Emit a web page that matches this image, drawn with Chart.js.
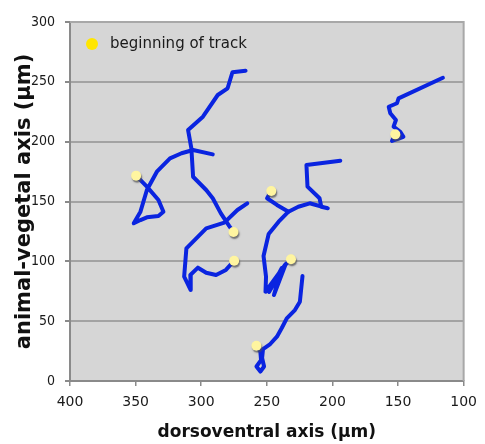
<!DOCTYPE html>
<html><head><meta charset="utf-8">
<script src="https://cdn.jsdelivr.net/npm/chart.js@4.4.0/dist/chart.umd.min.js"></script>
<style>html,body{margin:0;padding:0;background:#fff;}#wrap{width:485px;height:444px;}</style>
</head><body><div id="wrap"><canvas id="c" width="485" height="444"></canvas></div>
<script>
// ---- data (µm) ----
const xTicks = [400, 350, 300, 250, 200, 150, 100];
const yTicks = [0, 50, 100, 150, 200, 250, 300];
const xTitle = 'dorsoventral axis (\u03bcm)';
const yTitle = 'animal-vegetal axis (\u03bcm)';
const legendLabel = 'beginning of track';

const track1X = [349.6, 341.4, 332.6, 328.8, 332.6, 341.4, 346.3, 351.4, 346.3, 341.4, 333.8, 323.8, 315, 306.2, 291.2];
const track1Y = [171.6, 162.4, 151.2, 141.5, 137.9, 136.8, 134.5, 131.8, 141.5, 159.6, 174.9, 186.1, 190.3, 193, 189.4];
const track2X = [275.4, 278.6, 285, 291.2, 296.2, 306.2, 307.5, 310, 298.7, 287.4, 279.9, 276.2, 266.2];
const track2Y = [124.5, 129.5, 140.1, 152.7, 159.6, 170.7, 194.4, 209.7, 220.9, 239, 244.6, 258, 259.3];
const track3X = [274.9, 281.2, 288.7, 296.2, 302.5, 308.3, 308, 313, 311.3, 296.2, 282.4, 272.4, 264.9];
const track3Y = [100.5, 92.8, 88.6, 90.5, 94.7, 88.6, 76, 87.2, 110.9, 127.6, 132.3, 142.9, 148.5];
const track4X = [246.6, 249.8, 242.3, 233.5, 226, 217.3, 203.5, 208.5, 209.8, 219, 219.8, 194];
const track4Y = [158.8, 152.7, 147.1, 141.5, 145.6, 148.5, 144.3, 145.6, 152.7, 162.4, 180.5, 184.1];
const track5X = [231.6, 236.1, 248.3, 238.6, 244.6, 235.6, 251, 250.6, 252.5, 248.6, 241, 233.5];
const track5Y = [101.7, 96.9, 74.4, 94.4, 71.9, 97.8, 74.6, 87.2, 104.5, 122.8, 133.1, 141.5];
const track6X = [152.1, 154.6, 145.9, 148.3, 153.4, 151.6, 155.9, 157.1, 150.8, 149.6, 115.8];
const track6Y = [206.1, 200.6, 204.1, 208.3, 212.5, 218.1, 223.7, 229.2, 232.1, 236.2, 253.4];
const track7X = [257.9, 254.9, 254.4, 257.9, 254.9, 252.1, 253.6, 252.9, 247.4, 242.3, 238.6, 234.8, 228.6, 224.8, 222.8];
const track7Y = [29.5, 24.2, 17.5, 12.1, 7.9, 12.1, 19.2, 26.7, 30.9, 37, 44.3, 52.4, 59.3, 66.3, 87.7];

const tracks = [
  [track1X, track1Y], [track2X, track2Y], [track3X, track3Y], [track4X, track4Y],
  [track5X, track5Y], [track6X, track6Y], [track7X, track7Y]
];

// ---- styles ----
const LINE = '#0a24e0';
const DOT = '#fff5a0';
const LEGEND_DOT = '#ffe600';
const PLOT_BG = '#d6d6d6';
const GRID = '#a3a3a3';
const AXIS = '#8a8a8a';
const FONT = '"DejaVu Sans", Verdana, sans-serif';

const toPts = (xs, ys) => xs.map((x, i) => ({x: x, y: ys[i]}));

const datasets = [{
  label: legendLabel,
  data: tracks.map(t => ({x: t[0][0], y: t[1][0]})),
  showLine: false,
  pointRadius: 5,
  pointBackgroundColor: DOT,
  pointBorderWidth: 0,
  order: -1
}].concat(tracks.map((t, i) => ({
  label: 'track ' + (i + 1),
  data: toPts(t[0], t[1]),
  showLine: true,
  borderColor: LINE,
  borderWidth: 4,
  pointRadius: 0,
  tension: 0,
  fill: false,
  borderJoinStyle: 'round',
  borderCapStyle: 'round',
  order: 0
})));

const plotDecor = {
  id: 'plotDecor',
  beforeDraw(chart) {
    const {ctx, chartArea: a} = chart;
    ctx.save();
    ctx.fillStyle = PLOT_BG;
    ctx.fillRect(a.left, a.top, a.right - a.left, a.bottom - a.top);
    ctx.restore();
  },
  beforeDatasetsDraw(chart) {
    const {ctx, chartArea: a} = chart;
    ctx.save();
    ctx.strokeStyle = '#a8a8a8';
    ctx.lineWidth = 2;
    ctx.beginPath();
    ctx.moveTo(a.left, a.top);
    ctx.lineTo(a.right, a.top);
    ctx.lineTo(a.right, a.bottom);
    ctx.stroke();
    ctx.restore();
  },
  beforeDatasetDraw(chart, args) {
    if (args.index === 0) {
      const ctx = chart.ctx;
      ctx.save();
      ctx.shadowColor = 'rgba(80,80,80,0.75)';
      ctx.shadowOffsetX = 1;
      ctx.shadowOffsetY = 2;
      ctx.shadowBlur = 1.5;
    }
  },
  afterDatasetDraw(chart, args) {
    if (args.index === 0) chart.ctx.restore();
  },
  afterDatasetsDraw(chart) {
    const {ctx, chartArea: a} = chart;
    ctx.save();
    ctx.fillStyle = LEGEND_DOT;
    ctx.beginPath();
    ctx.arc(a.left + 22, a.top + 22, 6, 0, Math.PI * 2);
    ctx.fill();
    ctx.fillStyle = '#1a1a1a';
    ctx.font = '15px ' + FONT;
    ctx.textBaseline = 'middle';
    ctx.textAlign = 'left';
    ctx.fillText(chart.data.datasets[0].label, a.left + 40, a.top + 22);
    ctx.restore();
  }
};

new Chart(document.getElementById('c'), {
  type: 'scatter',
  data: {datasets: datasets},
  options: {
    responsive: false,
    animation: false,
    devicePixelRatio: 1,
    layout: {padding: {left: 0, top: 22, right: 16, bottom: 0}},
    plugins: {legend: {display: false}, tooltip: {enabled: false}},
    events: [],
    scales: {
      x: {
        type: 'linear',
        reverse: true,
        min: 100, max: 400,
        afterBuildTicks: s => { s.ticks = xTicks.map(v => ({value: v})); },
        afterFit: s => { s.height = 63; },
        ticks: {color: '#1a1a1a', font: {family: FONT, size: 14}, padding: 8, maxRotation: 0},
        grid: {drawOnChartArea: false, drawTicks: true, tickLength: 5, color: AXIS, lineWidth: 1.5},
        border: {display: true, color: AXIS, width: 2},
        title: {display: true, text: xTitle, color: '#111', font: {family: FONT, size: 17, weight: 'bold'}, padding: {top: 0, bottom: 1}}
      },
      y: {
        type: 'linear',
        min: 0, max: 300,
        afterBuildTicks: s => { s.ticks = yTicks.map(v => ({value: v})); },
        afterFit: s => { s.width = 70; },
        ticks: {color: '#1a1a1a', font: {family: '"DejaVu Sans Condensed", ' + FONT, size: 14}, padding: 10},
        grid: {drawOnChartArea: true, drawTicks: true, tickLength: 5, color: GRID, tickColor: AXIS, lineWidth: 2},
        border: {display: true, color: AXIS, width: 2},
        title: {display: true, text: yTitle, color: '#111', font: {family: FONT, size: 21, weight: 'bold'}, padding: {top: 12, bottom: 0}}
      }
    }
  },
  plugins: [plotDecor]
});
</script>
</body></html>
